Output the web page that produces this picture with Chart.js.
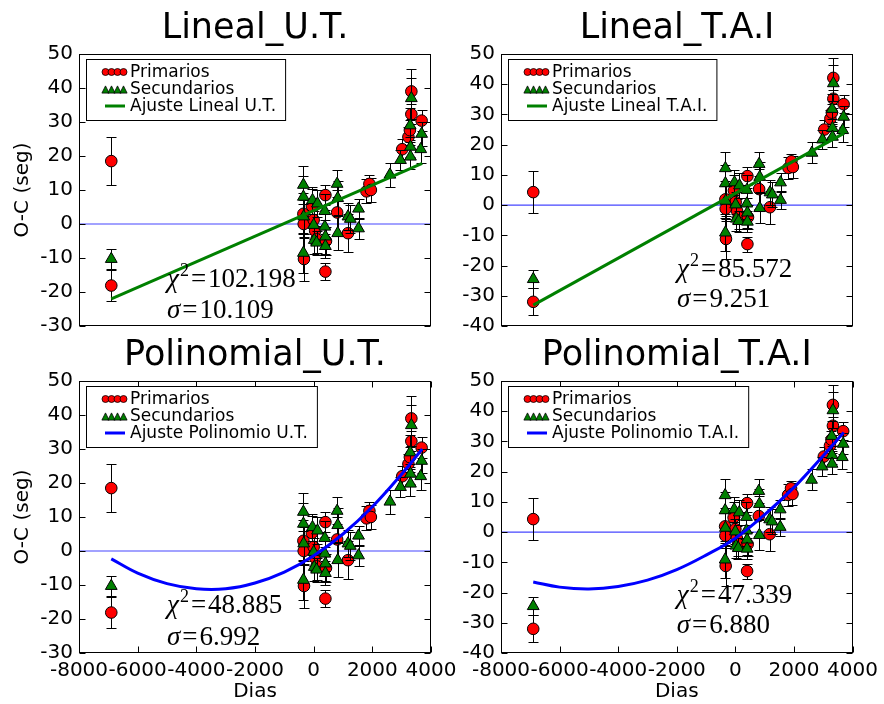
<!DOCTYPE html>
<html><head><meta charset="utf-8">
<script src="https://cdn.jsdelivr.net/npm/chart.js@4/dist/chart.umd.min.js"></script>
<style>
html,body{margin:0;padding:0;background:#fff;}
#wrap{position:relative;width:884px;height:704px;overflow:hidden;}
canvas{position:absolute;left:0;top:0;}
</style></head><body>
<div id="wrap">
<canvas id="c1" width="884" height="704"></canvas>
<canvas id="c2" width="884" height="704"></canvas>
<canvas id="c3" width="884" height="704"></canvas>
<canvas id="c4" width="884" height="704"></canvas>
</div>
<script>
// ---------- data ----------
const priDias = [-6900,-6900,-350,-340,-330,-60,0,50,100,400,420,400,800,1170,1800,1900,1950,3020,3230,3280,3330,3330,3680];
const priUT   = [18.5,-18.1,3.0,0.0,-10.3,5.3,1.2,-2.0,-4.5,8.5,-5.0,-14.0,3.4,-2.7,9.6,11.8,10.0,22.0,25.6,27.6,32.3,39.0,30.4];
const priTAI  = [4.3,-32.0,1.9,-1.2,-11.2,4.8,1.0,-2.0,-4.0,9.6,-4.0,-12.9,5.3,-0.7,12.3,14.5,12.6,25.0,28.6,30.6,35.2,42.1,33.4];
const priErr  = [7,4.5,6,4,6.5,5,4,4,4,3,4,2.5,6.5,5.5,3.5,2.5,3.5,3,3,3,3,6.5,3];

const secDias = [-6900,-350,-350,-340,-350,-40,0,20,100,130,380,380,400,400,800,820,820,1170,1250,1530,1530,2600,2960,3290,3300,3300,3330,3680,3650];
const secUT   = [-10.3,11.5,8.0,2.2,-8.5,7.0,-0.3,-4.7,-5.5,6.0,3.8,-0.8,-3.7,-6.5,11.8,7.6,-2.7,2.2,1.5,4.5,-1.3,14.5,18.8,29.0,22.7,19.8,37.0,26.5,22.0];
const secTAI  = [-24.5,12.2,7.2,1.4,-9.1,7.5,0.2,-4.5,-5.3,6.5,5.0,0.5,-2.5,-5.5,13.6,9.3,-1.0,4.2,3.5,7.5,1.7,17.3,21.7,31.8,25.5,22.6,40.3,29.2,24.8];
const secErr  = [3,5.5,6,5,6,4,4,4,3.5,4,5,5,5,3.5,4,5,5,4,4,3,3,3.5,3,5,3,3.5,6,3.5,4];

const linDias = [-6900, 3700];
const linUT   = [-22.0, 17.8];
const linTAI  = [-33.1, 23.8];

const polyDias = [-6900,-6000,-5000,-4000,-3000,-2000,-1000,0,1000,2000,3000,3700];
const polyUT   = [-2.3,-6.5,-9.6,-11.1,-11.1,-9.4,-6.2,-1.4,5.0,13.0,22.6,30.0];
const polyTAI  = [-16.5,-18.2,-18.8,-18.0,-15.9,-12.4,-7.6,-2.0,5.8,14.8,25.3,33.0];

const zeroDias = [-8000, 4000];
const zeroVals = [0, 0];

const xTicks = [-8000,-6000,-4000,-2000,0,2000,4000];
const yRangeUT  = [-30, 50];
const yRangeTAI = [-40, 50];

const titles    = ['Lineal_U.T.', 'Lineal_T.A.I', 'Polinomial_U.T.', 'Polinomial_T.A.I'];
const fitLabels = ['Ajuste Lineal U.T.', 'Ajuste Lineal T.A.I.', 'Ajuste Polinomio U.T.', 'Ajuste Polinomio T.A.I.'];
const seriesLabels = ['Primarios', 'Secundarios'];
const chi2Vals  = ['102.198', '85.572', '48.885', '47.339'];
const sigmaVals = ['10.109', '9.251', '6.992', '6.880'];
const xTitle = 'Dias';
const yTitle = 'O-C (seg)';

// ---------- helpers ----------
const pts = (xs, ys) => xs.map((x, i) => ({x, y: ys[i]}));
const SANS = '"DejaVu Sans", sans-serif';
const SERIF = '"Liberation Serif", "DejaVu Serif", serif';

function triPath(ctx, x, y, r) {
  ctx.beginPath();
  ctx.moveTo(x, y - r);
  ctx.lineTo(x + r, y + r);
  ctx.lineTo(x - r, y + r);
  ctx.closePath();
}

function build(id, o) {
  const W = 884, H = 704;
  const a = o.area;
  const yAxisW = 79;
  const xAxisH = o.showX ? H - a.b : 0;

  const errPlugin = {
    id: 'errbars',
    beforeDatasetDraw(chart, args) {
      const ds = chart.data.datasets[args.index];
      if (!ds.errors) return;
      const ys = chart.scales.y, ctx = chart.ctx;
      ctx.save();
      ctx.strokeStyle = '#000'; ctx.lineWidth = 1;
      args.meta.data.forEach((el, i) => {
        const v = ds.data[i].y, e = ds.errors[i];
        const x = Math.round(el.x) + 0.5;
        const y1 = Math.round(ys.getPixelForValue(v + e)) + 0.5;
        const y2 = Math.round(ys.getPixelForValue(v - e)) + 0.5;
        ctx.beginPath();
        ctx.moveTo(x, y1); ctx.lineTo(x, y2);
        ctx.moveTo(x - 5, y1); ctx.lineTo(x + 5, y1);
        ctx.moveTo(x - 5, y2); ctx.lineTo(x + 5, y2);
        ctx.stroke();
      });
      ctx.restore();
    }
  };

  const framePlugin = {
    id: 'frame',
    afterDatasetsDraw(chart) {
      const ctx = chart.ctx, ca = chart.chartArea, xs = chart.scales.x, ys = chart.scales.y;
      ctx.save();
      ctx.strokeStyle = '#000'; ctx.lineWidth = 1;
      const L = Math.round(ca.left) + 0.5, R = Math.round(ca.right) - 0.5;
      const T = Math.round(ca.top) + 0.5, B = Math.round(ca.bottom) - 0.5;
      ctx.strokeRect(L, T, R - L, B - T);
      ctx.beginPath();
      ys.ticks.forEach(t => {
        const y = Math.round(ys.getPixelForValue(t.value)) + 0.5;
        ctx.moveTo(L, y); ctx.lineTo(L + 6, y);
        ctx.moveTo(R, y); ctx.lineTo(R - 6, y);
      });
      if (o.showX) {
        xs.ticks.forEach(t => {
          const x = Math.round(xs.getPixelForValue(t.value)) + 0.5;
          ctx.moveTo(x, B); ctx.lineTo(x, B - 6);
          ctx.moveTo(x, T); ctx.lineTo(x, T + 6);
        });
      }
      ctx.stroke();

      // statistics text
      const sx = xs.getPixelForValue(o.statsAt[0]);
      const b1 = ys.getPixelForValue(o.statsAt[1]);
      const b2 = ys.getPixelForValue(o.statsAt[2]);
      ctx.fillStyle = '#000';
      ctx.textBaseline = 'alphabetic'; ctx.textAlign = 'left';
      let x = sx;
      ctx.font = 'italic 27px ' + SERIF;
      ctx.fillText('\u03C7', x, b1); x += ctx.measureText('\u03C7').width + 1;
      ctx.font = '18px ' + SERIF;
      ctx.fillText('2', x, b1 - 11); x += ctx.measureText('2').width + 2;
      ctx.font = '27px ' + SERIF;
      ctx.fillText('=', x, b1); x += ctx.measureText('=').width + 2;
      ctx.fillText(o.chi, x, b1);
      x = sx;
      ctx.font = 'italic 27px ' + SERIF;
      ctx.fillText('\u03C3', x, b2); x += ctx.measureText('\u03C3').width + 2;
      ctx.font = '27px ' + SERIF;
      ctx.fillText('=', x, b2); x += ctx.measureText('=').width + 2;
      ctx.fillText(o.sig, x, b2);
      ctx.restore();
    },
    afterDraw(chart) {
      const ctx = chart.ctx, ca = chart.chartArea;
      ctx.save();
      // title
      ctx.fillStyle = '#000';
      ctx.font = '35px ' + SANS;
      ctx.textAlign = 'center'; ctx.textBaseline = 'alphabetic';
      ctx.fillText(o.title, (ca.left + ca.right) / 2, ca.top - 16);
      // legend
      ctx.font = '17px ' + SANS;
      const labels = [seriesLabels[0], seriesLabels[1], o.fitLabel];
      const tw = Math.max(...labels.map(t => ctx.measureText(t).width));
      const bx = Math.round(ca.left) + 7, by = Math.round(ca.top) + 5;
      const bw = 44 + tw + 9, bh = 61;
      ctx.fillStyle = '#fff';
      ctx.fillRect(bx, by, bw, bh);
      ctx.strokeStyle = '#000'; ctx.lineWidth = 1;
      ctx.strokeRect(bx + 0.5, by + 0.5, bw, bh);
      const rows = [by + 13, by + 30, by + 47];
      const mx = [19.5, 25.5, 31.5, 37.5];
      ctx.lineWidth = 0.8;
      mx.forEach(m => {
        ctx.beginPath(); ctx.arc(bx + m, rows[0], 3.5, 0, Math.PI * 2);
        ctx.fillStyle = '#ff0000'; ctx.fill(); ctx.strokeStyle = '#000'; ctx.stroke();
      });
      mx.forEach(m => {
        triPath(ctx, bx + m, rows[1] + 0.5, 3.6);
        ctx.fillStyle = '#008000'; ctx.fill(); ctx.strokeStyle = '#000'; ctx.stroke();
      });
      ctx.beginPath(); ctx.lineWidth = 3; ctx.strokeStyle = o.fitColor;
      ctx.moveTo(bx + 19, rows[2]); ctx.lineTo(bx + 39, rows[2]); ctx.stroke();
      ctx.fillStyle = '#000'; ctx.textAlign = 'left'; ctx.textBaseline = 'middle';
      labels.forEach((t, i) => ctx.fillText(t, bx + 44, rows[i] + 1));
      ctx.restore();
    }
  };

  return new Chart(document.getElementById(id), {
    type: 'scatter',
    data: {
      datasets: [
        { label: o.fitLabel, data: pts(o.fitX, o.fitY), showLine: true, borderColor: o.fitColor,
          borderWidth: 3, pointRadius: 0, tension: o.tension, fill: false },
        { label: seriesLabels[1], data: pts(secDias, o.secY), errors: secErr, pointStyle: 'triangle',
          pointRadius: 6.8, backgroundColor: '#008000', borderColor: '#000', borderWidth: 1 },
        { label: seriesLabels[0], data: pts(priDias, o.priY), errors: priErr, pointStyle: 'circle',
          pointRadius: 5.8, backgroundColor: '#ff0000', borderColor: '#000', borderWidth: 1 },
        { label: 'cero', data: pts(zeroDias, zeroVals), showLine: true, borderColor: 'rgba(50,50,255,0.9)',
          borderWidth: 1.2, pointRadius: 0 }
      ]
    },
    options: {
      responsive: false, animation: false, devicePixelRatio: 1,
      layout: { padding: { left: a.l - yAxisW, top: a.t, right: W - a.r, bottom: H - a.b - xAxisH } },
      plugins: { legend: { display: false }, tooltip: { enabled: false }, title: { display: false } },
      scales: {
        x: {
          type: 'linear', min: xTicks[0], max: xTicks[xTicks.length - 1],
          afterBuildTicks: s => { s.ticks = xTicks.map(v => ({value: v})); },
          grid: { display: false, drawTicks: false }, border: { display: false },
          ticks: { display: o.showX, autoSkip: false, maxRotation: 0, minRotation: 0, padding: 6,
                   color: '#000', font: { family: 'DejaVu Sans', size: 20 }, callback: v => String(v) },
          title: { display: o.showX, text: xTitle, color: '#000', font: { family: 'DejaVu Sans', size: 20 },
                   padding: { top: 0, bottom: 0 } },
          afterFit: s => { s.height = xAxisH; }
        },
        y: {
          type: 'linear', min: o.yRange[0], max: o.yRange[1],
          ticks: { stepSize: 10, padding: 6, color: '#000', font: { family: 'DejaVu Sans', size: 20 },
                   callback: v => String(v) },
          grid: { display: false, drawTicks: false }, border: { display: false },
          title: { display: o.showYTitle, text: yTitle, color: '#000', font: { family: 'DejaVu Sans', size: 20 },
                   padding: { top: 11, bottom: 0 } },
          afterFit: s => { s.width = yAxisW; }
        }
      }
    },
    plugins: [errPlugin, framePlugin]
  });
}

build('c1', { area: {l: 79, t: 54, r: 431, b: 326}, showX: false, showYTitle: true, yRange: yRangeUT,
  priY: priUT, secY: secUT, fitX: linDias, fitY: linUT, fitColor: '#008000', tension: 0,
  title: titles[0], fitLabel: fitLabels[0], chi: chi2Vals[0], sig: sigmaVals[0], statsAt: [-5000, -18.5, -27.6] });
build('c2', { area: {l: 501, t: 54, r: 853, b: 326}, showX: false, showYTitle: false, yRange: yRangeTAI,
  priY: priTAI, secY: secTAI, fitX: linDias, fitY: linTAI, fitColor: '#008000', tension: 0,
  title: titles[1], fitLabel: fitLabels[1], chi: chi2Vals[1], sig: sigmaVals[1], statsAt: [-2000, -23.9, -33.6] });
build('c3', { area: {l: 79, t: 381, r: 431, b: 653}, showX: true, showYTitle: true, yRange: yRangeUT,
  priY: priUT, secY: secUT, fitX: polyDias, fitY: polyUT, fitColor: '#0000ff', tension: 0.4,
  title: titles[2], fitLabel: fitLabels[2], chi: chi2Vals[2], sig: sigmaVals[2], statsAt: [-5000, -18.3, -27.6] });
build('c4', { area: {l: 501, t: 381, r: 853, b: 653}, showX: true, showYTitle: false, yRange: yRangeTAI,
  priY: priTAI, secY: secTAI, fitX: polyDias, fitY: polyTAI, fitColor: '#0000ff', tension: 0.4,
  title: titles[3], fitLabel: fitLabels[3], chi: chi2Vals[3], sig: sigmaVals[3], statsAt: [-2000, -23.6, -33.5] });
</script>
</body></html>
